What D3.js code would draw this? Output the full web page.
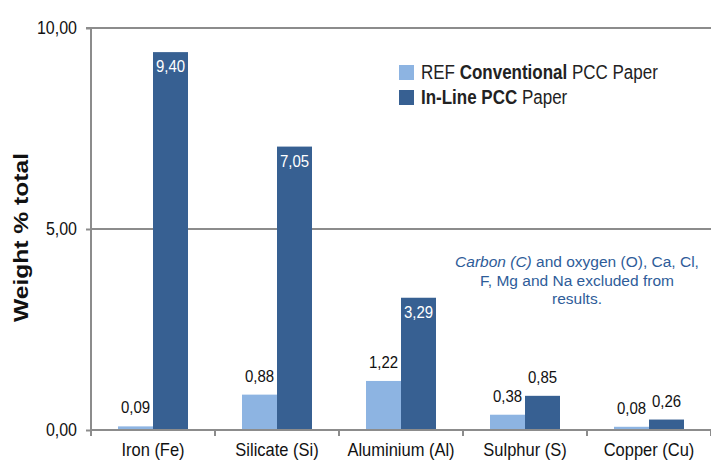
<!DOCTYPE html>
<html><head><meta charset="utf-8">
<script src="https://cdn.jsdelivr.net/npm/d3@7"></script>
<style>body{margin:0;background:#fff;}svg{display:block;font-family:"Liberation Sans",Arial,sans-serif;}</style>
</head><body><svg id="c" width="711" height="461"></svg>
<script>
const categories = ["Iron (Fe)", "Silicate (Si)", "Aluminium (Al)", "Sulphur (S)", "Copper (Cu)"];
const refValues = [0.09, 0.88, 1.22, 0.38, 0.08];
const inlineValues = [9.40, 7.05, 3.29, 0.85, 0.26];
const yTicks = [0, 5, 10];
const lightColor = "#8DB4E2", darkColor = "#376092", gridColor = "#8C8C8C";
const FF = "Liberation Sans, Arial, sans-serif";
const SY = 1.15; // vertical stretch of glyphs in the reference

const svg = d3.select("#c");
const m = {l: 91, r: 0, t: 28, b: 31};
const W = 711, H = 461;
const x = d3.scaleBand().domain(categories).range([m.l, W - m.r]).paddingInner(0).paddingOuter(0);
const y = d3.scaleLinear().domain([0, 10]).range([H - m.b, m.t]);
const fmt = v => d3.format(".2f")(v).replace(".", ",");
const bw = 35;
function stretch(sel) {
  sel.each(function() {
    const t = d3.select(this);
    const yy = +t.attr("y") || 0;
    t.attr("transform", `translate(0,${yy}) scale(1,${SY}) translate(0,${-yy})`);
  });
}

// gridlines
svg.append("g").selectAll("line").data(yTicks.filter(d => d > 0)).join("line")
  .attr("x1", m.l).attr("x2", W).attr("y1", d => y(d)).attr("y2", d => y(d))
  .attr("stroke", gridColor).attr("stroke-width", 2);

// bars
const g = svg.append("g");
categories.forEach((c, i) => {
  const cx = x(c) + x.bandwidth() / 2;
  g.append("rect").attr("x", cx - bw).attr("width", bw).attr("y", y(refValues[i])).attr("height", y(0) - y(refValues[i])).attr("fill", lightColor);
  g.append("rect").attr("x", cx).attr("width", bw).attr("y", y(inlineValues[i])).attr("height", y(0) - y(inlineValues[i])).attr("fill", darkColor);
  g.append("text").attr("class", "lbl").attr("x", cx - bw / 2).attr("y", y(refValues[i]) - 13).attr("text-anchor", "middle")
    .attr("font-size", 15).attr("fill", "#111").text(fmt(refValues[i]));
  const inside = inlineValues[i] > 2;
  g.append("text").attr("class", "lbl").attr("x", cx + bw / 2).attr("y", inside ? y(inlineValues[i]) + 20 : y(inlineValues[i]) - 13)
    .attr("text-anchor", "middle").attr("font-size", 15).attr("fill", inside ? "#fff" : "#111").text(fmt(inlineValues[i]));
});
stretch(g.selectAll("text.lbl"));

// y axis
const ya = svg.append("g").attr("transform", `translate(${m.l},0)`)
  .call(d3.axisLeft(y).tickValues(yTicks).tickSize(5).tickFormat(fmt));
ya.attr("font-family", FF);
ya.select(".domain").attr("stroke", gridColor).attr("stroke-width", 2).attr("d", `M-5,${y(10)}H0V${y(0)}`);
ya.selectAll(".tick line").attr("stroke", gridColor).attr("stroke-width", 2);
ya.selectAll(".tick text").attr("font-size", 16).attr("fill", "#111").attr("x", -14).attr("dy", "0.32em");
stretch(ya.selectAll(".tick text"));

// x axis
const xa = svg.append("g").attr("transform", `translate(0,${y(0)})`)
  .call(d3.axisBottom(x).tickSize(0));
xa.attr("font-family", FF);
xa.select(".domain").attr("stroke", gridColor).attr("stroke-width", 2).attr("d", `M${m.l},0H${W}`);
xa.selectAll(".tick text").attr("font-size", 16.5).attr("fill", "#111").attr("y", 26).attr("dy", null);
stretch(xa.selectAll(".tick text"));
const bounds = [...categories.map(c => x(c)), W];
xa.append("g").selectAll("line").data(bounds).join("line")
  .attr("x1", d => d).attr("x2", d => d).attr("y1", 0).attr("y2", 6)
  .attr("stroke", gridColor).attr("stroke-width", 2);

// y title
svg.append("text").attr("transform", `translate(28,237.5) rotate(-90)`).attr("text-anchor", "middle")
  .attr("font-size", 21).attr("font-weight", "bold").attr("fill", "#111")
  .attr("textLength", 169).attr("lengthAdjust", "spacingAndGlyphs").text("Weight % total");

// legend
const leg = svg.append("g");
const legItems = [
  {color: lightColor, parts: [["REF ", "normal"], ["Conventional", "bold"], [" PCC Paper", "normal"]]},
  {color: darkColor, parts: [["In-Line PCC", "bold"], [" Paper", "normal"]]}
];
legItems.forEach((it, i) => {
  const yy = 72.5 + i * 25;
  leg.append("rect").attr("x", 399).attr("y", yy - 7.5).attr("width", 15).attr("height", 15).attr("fill", it.color);
  const t = leg.append("text").attr("class", "lg").attr("x", 421).attr("y", yy + 7).attr("font-size", 17).attr("fill", "#222");
  it.parts.forEach(p => t.append("tspan").attr("font-weight", p[1]).text(p[0]));
});
stretch(leg.selectAll("text.lg"));

// note
const noteColor = "#2E5C99";
const noteLines = [["Carbon (C)", " and oxygen (O), Ca, Cl,"], [null, "F, Mg and Na excluded from"], [null, "results."]];
const noteY = [267, 285.5, 304];
const note = svg.append("g");
noteLines.forEach((ln, i) => {
  const t = note.append("text").attr("x", 577).attr("y", noteY[i]).attr("text-anchor", "middle")
    .attr("font-size", 15.5).attr("fill", noteColor);
  if (ln[0]) t.append("tspan").attr("font-style", "italic").text(ln[0]);
  t.append("tspan").text(ln[1]);
});
</script></body></html>
